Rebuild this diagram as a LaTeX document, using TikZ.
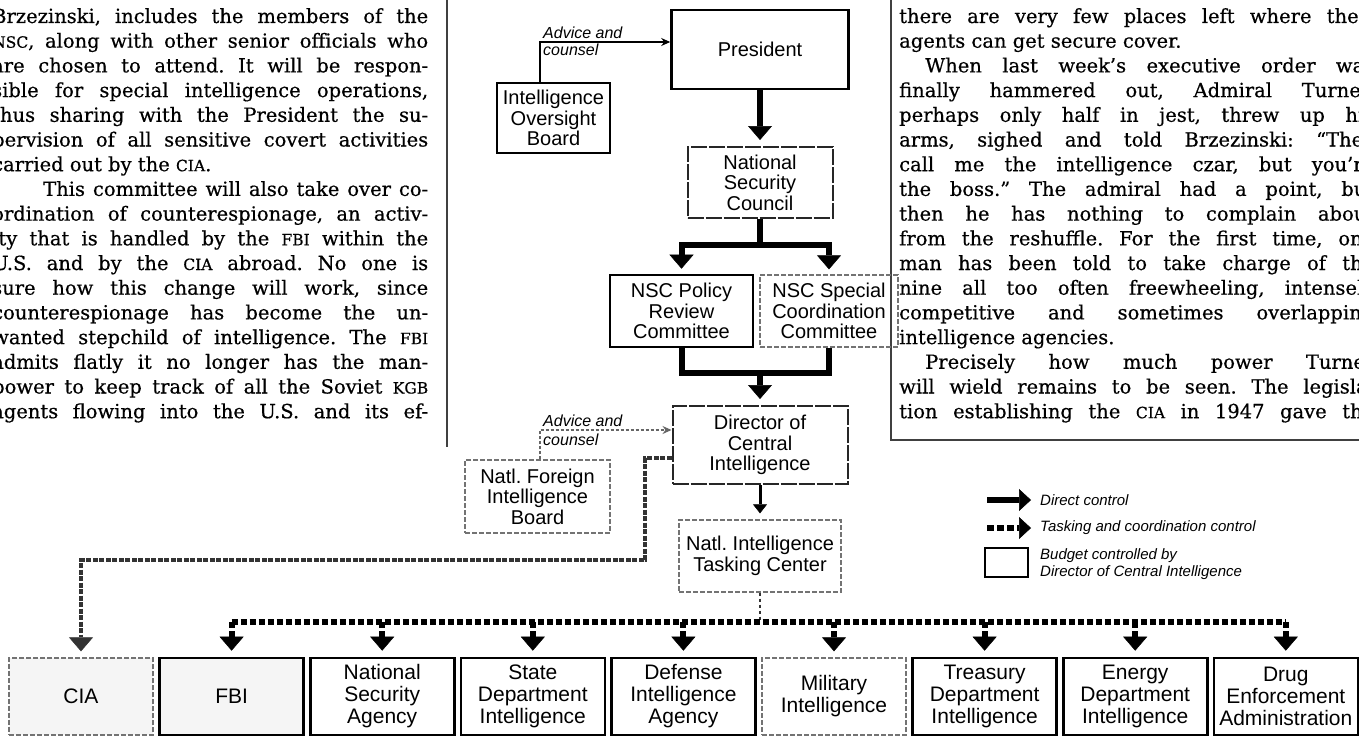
\documentclass[tikz,border=0pt]{standalone}
\usepackage{fontspec}
\setmainfont{DejaVu Serif}[FakeBold=0.5]
\newfontfamily\hsans{Liberation Sans}
\usetikzlibrary{arrows.meta}
\frenchspacing
\newcommand\SC[1]{{\fontsize{15.5}{15.5}\selectfont #1}}
\newcommand\TL[6]{\node[body] (#1) at (#2,{23+24.7*#3}) {\makebox[#4pt][#5]{#6}};}
\tikzset{
  body/.style={anchor=base west, inner sep=0pt, font=\fontsize{19.5}{19.5}\selectfont},
  box/.style={align=center, inner sep=0pt, font=\hsans\fontsize{20}{20.5}\selectfont},
  dark/.style={box, draw=black, line width=2.6pt},
  mid/.style={box, draw=black!85, line width=2pt, dash pattern=on 16pt off 2pt},
  faint/.style={box, draw=black!55, line width=1.3pt, dash pattern=on 5pt off 2pt},
  low/.style={font=\hsans\fontsize{21}{22}\selectfont, minimum width=144pt, minimum height=77pt},
  direct/.style={line width=6pt, draw=black, line join=miter},
  bigtip/.style={-{Triangle[width=24pt,length=14pt,line width=0.5pt]}},
  task/.style={line width=6pt, draw=black, dash pattern=on 6pt off 3pt},
  thindot/.style={line width=2.5pt, draw=black!80, dash pattern=on 3pt off 3pt},
  cialine/.style={line width=4.5pt, draw=black!80, dash pattern=on 5pt off 1.5pt},
  adv/.style={line width=1.3pt, draw=black, -{Stealth[length=9pt,width=8pt]}},
  advfaint/.style={line width=1.2pt, draw=black!60, dash pattern=on 3pt off 2pt, -{Stealth[length=9pt,width=8pt]}},
  lbl/.style={anchor=base west, inner sep=0pt, font=\hsans\itshape\fontsize{16}{16}\selectfont},
  leg/.style={inner sep=0pt, font=\hsans\itshape\fontsize{15}{17}\selectfont},
  rule/.style={line width=1.2pt, draw=black!75}
}
\begin{document}
\begin{tikzpicture}[x=1pt,y=-1pt]
\useasboundingbox (0,0) rectangle (1359,736);
\clip (0,0) rectangle (1359,736);
\fill[white] (0,0) rectangle (1359,736);

% ---------- left column ----------
\TL{L0}{-8}{0}{436}{s}{Brzezinski, includes the members of the}
\TL{L1}{-8}{1}{436}{s}{\SC{NSC}, along with other senior officials who}
\TL{L2}{-8}{2}{436}{s}{are chosen to attend. It will be respon-}
\TL{L3}{-8}{3}{436}{s}{sible for special intelligence operations,}
\TL{L4}{-8}{4}{436}{s}{thus sharing with the President the su-}
\TL{L5}{-8}{5}{436}{s}{pervision of all sensitive covert activities}
\TL{L6}{-8}{6}{436}{l}{carried out by the \SC{CIA}.}
\TL{L7}{43}{7}{385}{s}{This committee will also take over co-}
\TL{L8}{-8}{8}{436}{s}{ordination of counterespionage, an activ-}
\TL{L9}{-8}{9}{436}{s}{ity that is handled by the \SC{FBI} within the}
\TL{L10}{-8}{10}{436}{s}{U.S. and by the \SC{CIA} abroad. No one is}
\TL{L11}{-8}{11}{436}{s}{sure how this change will work, since}
\TL{L12}{-8}{12}{436}{s}{counterespionage has become the un-}
\TL{L13}{-8}{13}{436}{s}{wanted stepchild of intelligence. The \SC{FBI}}
\TL{L14}{-8}{14}{436}{s}{admits flatly it no longer has the man-}
\TL{L15}{-8}{15}{436}{s}{power to keep track of all the Soviet \SC{KGB}}
\TL{L16}{-8}{16}{436}{s}{agents flowing into the U.S. and its ef-}

% ---------- right column ----------
\TL{R0}{899}{0}{475}{s}{there are very few places left where their}
\TL{R1}{899}{1}{475}{l}{agents can get secure cover.}
\TL{R2}{925}{2}{449}{s}{When last week’s executive order was}
\TL{R3}{899}{3}{475}{s}{finally hammered out, Admiral Turner,}
\TL{R4}{899}{4}{475}{s}{perhaps only half in jest, threw up his}
\TL{R5}{899}{5}{475}{s}{arms, sighed and told Brzezinski: “They}
\TL{R6}{899}{6}{475}{s}{call me the intelligence czar, but you’re}
\TL{R7}{899}{7}{475}{s}{the boss.” The admiral had a point, but}
\TL{R8}{899}{8}{475}{s}{then he has nothing to complain about}
\TL{R9}{899}{9}{475}{s}{from the reshuffle. For the first time, one}
\TL{R10}{899}{10}{475}{s}{man has been told to take charge of the}
\TL{R11}{899}{11}{475}{s}{nine all too often freewheeling, intensely}
\TL{R12}{899}{12}{475}{s}{competitive and sometimes overlapping}
\TL{R13}{899}{13}{475}{l}{intelligence agencies.}
\TL{R14}{925}{14}{449}{s}{Precisely how much power Turner}
\TL{R15}{899}{15}{475}{s}{will wield remains to be seen. The legisla-}
\TL{R16}{899}{16}{475}{s}{tion establishing the \SC{CIA} in 1947 gave the}

% column rules
\coordinate (r1) at (447,0); \coordinate (r2) at (447,447);
\coordinate (r3) at (891,0); \coordinate (r4) at (891,440); \coordinate (r5) at (1359,440);
\draw[rule] (r1) -- (r2);
\draw[rule] (r3) -- (r4) -- (r5);

% ---------- upper boxes ----------
\node[dark, minimum width=177pt, minimum height=79pt] (pres) at (760,49.5) {President};
\node[dark, minimum width=113pt, minimum height=70pt] (iob) at (553.5,118) {Intelligence\\Oversight\\Board};
\node[mid, minimum width=145pt, minimum height=71pt] (nsc) at (760,182.5) {National\\Security\\Council};
\node[dark, minimum width=143pt, minimum height=72pt] (pol) at (681.5,311) {NSC Policy\\Review\\Committee};
\node[faint, minimum width=138pt, minimum height=72pt] (spc) at (829,311) {NSC Special\\Coordination\\Committee};
\node[mid, minimum width=175pt, minimum height=78pt] (dci) at (760,445) {Director of\\Central\\Intelligence};
\node[faint, minimum width=145pt, minimum height=73pt] (nfib) at (537.5,496.5) {Natl. Foreign\\Intelligence\\Board};
\node[faint, minimum width=162pt, minimum height=72pt] (nitc) at (760,556) {Natl. Intelligence\\Tasking Center};

% ---------- lower boxes ----------
\node[faint, low, fill=black!4] (cia) at (81,696.5) {CIA};
\node[dark, low, fill=black!4] (fbi) at (231.6,696.5) {FBI};
\node[dark, low] (nsa) at (382.2,696.5) {National\\Security\\Agency};
\node[dark, low] (sdi) at (532.8,696.5) {State\\Department\\Intelligence};
\node[dark, low] (dia) at (683.4,696.5) {Defense\\Intelligence\\Agency};
\node[faint, low] (mil) at (834,696.5) {Military\\Intelligence};
\node[dark, low] (tdi) at (984.6,696.5) {Treasury\\Department\\Intelligence};
\node[dark, low] (edi) at (1135.2,696.5) {Energy\\Department\\Intelligence};
\node[dark, low] (dea) at (1285.8,696.5) {Drug\\Enforcement\\Administration};

% ---------- advice labels ----------
\node[lbl] (adv1) at (543,38) {Advice and};
\node[lbl] (adv2) at (543,55) {counsel};
\node[lbl] (adv3) at (543,426) {Advice and};
\node[lbl] (adv4) at (543,445) {counsel};

% ---------- connectors ----------
\draw[adv] ([xshift=-13.5pt]iob.north) |- ([yshift=7.5pt]pres.west);
\draw[advfaint] ([xshift=2.5pt]nfib.north) |- ([yshift=15pt]dci.west);

\draw[direct, bigtip, shorten >=6pt] (pres.south) -- (nsc.north);
\coordinate (j1) at (760,245);
\draw[direct] (nsc.south) -- (j1);
\draw[direct, bigtip, shorten >=5pt] (j1) -| (pol.north);
\draw[direct, bigtip, shorten >=5pt] (j1) -| (spc.north);

\coordinate (j2) at (760,373);
\draw[direct] (pol.south) |- (j2);
\draw[direct] (spc.south) |- (j2);
\draw[direct, bigtip, shorten >=6pt] (j2) -- (dci.north);

\draw[line width=3pt, -{Triangle[width=14pt,length=9pt,line width=0.5pt]}, shorten >=6pt] (dci.south) -- (nitc.north);

\coordinate (b1) at (645,560);
\draw[cialine, bigtip, shorten >=6pt] ([yshift=-13pt]dci.west) -| (b1) -| (cia.north);

\coordinate (j3) at (760,622);
\draw[thindot] (nitc.south) -- (j3);
\draw[task] (fbi.north |- j3) -- (dea.north |- j3);
\foreach \n in {fbi,nsa,sdi,dia,mil,tdi,edi,dea}
  \draw[task, bigtip, shorten >=6pt] (\n.north |- j3) -- (\n.north);

% ---------- legend ----------
\coordinate (lga) at (987,500); \coordinate (lgb) at (1031,500);
\coordinate (lgc) at (987,528); \coordinate (lgd) at (1031,528);
\draw[direct, -{Triangle[width=22pt,length=12pt,line width=0.5pt]}] (lga) -- (lgb);
\draw[task, dash pattern=on 7pt off 3pt, -{Triangle[width=22pt,length=12pt,line width=0.5pt]}] (lgc) -- (lgd);
\node[dark, minimum width=43pt, minimum height=29pt] (lgbox) at (1006.5,562.5) {};
\node[leg, anchor=west] (lt1) at (1040,500) {Direct control};
\node[leg, anchor=west] (lt2) at (1040,528) {Tasking and coordination control};
\node[leg, anchor=west, align=left] (lt3) at (1040,564) {Budget controlled by\\Director of Central Intelligence};
\end{tikzpicture}
\end{document}
